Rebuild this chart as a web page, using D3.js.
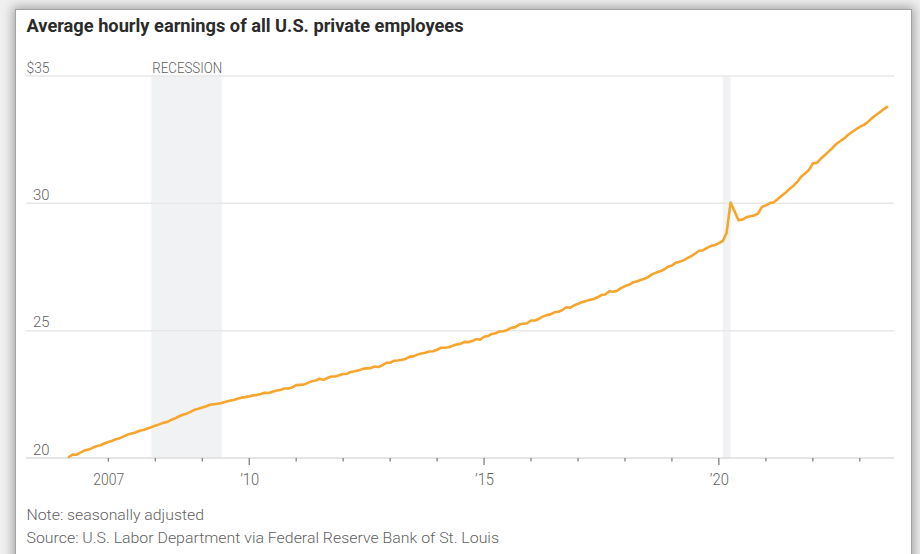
<!DOCTYPE html>
<html><head><meta charset="utf-8">
<script src="https://cdn.jsdelivr.net/npm/d3@7"></script>
<style>
html,body{margin:0;padding:0;width:920px;height:554px;overflow:hidden;background:#efefef;}
#panel{position:absolute;left:16px;top:10px;width:895px;height:620px;background:#fff;box-shadow:0 0 0 1px #a2a2a2, 0 0 10px 3px rgba(0,0,0,0.32);}
svg{position:absolute;left:0;top:0;}
text{font-family:"Roboto","Liberation Sans Narrow","DejaVu Sans Condensed",sans-serif;font-weight:300;}
text.title{font-family:"Roboto","DejaVu Sans Condensed",sans-serif;font-weight:700;}
</style></head><body><div id="panel"></div><svg id="chart" width="920" height="554"></svg>
<script>
const titleText = "Average hourly earnings of all U.S. private employees";
const noteText = "Note: seasonally adjusted";
const sourceText = "Source: U.S. Labor Department via Federal Reserve Bank of St. Louis";
const recessionLabel = "RECESSION";

// Monthly series, first value = March 2006
const firstYear = 2006, firstMonth = 2;
const earnings = [
  /*2006*/ 20.04, 20.14, 20.13, 20.22, 20.30, 20.33, 20.40, 20.46, 20.50, 20.57,
  /*2007*/ 20.63, 20.68, 20.74, 20.78, 20.85, 20.92, 20.96, 21.00, 21.07, 21.10, 21.16, 21.21,
  /*2008*/ 21.27, 21.32, 21.38, 21.41, 21.49, 21.55, 21.63, 21.70, 21.74, 21.81, 21.89, 21.93,
  /*2009*/ 21.98, 22.03, 22.09, 22.11, 22.13, 22.16, 22.21, 22.25, 22.28, 22.33, 22.37, 22.39,
  /*2010*/ 22.42, 22.46, 22.47, 22.51, 22.56, 22.55, 22.60, 22.65, 22.67, 22.73, 22.73, 22.77,
  /*2011*/ 22.86, 22.87, 22.88, 22.95, 23.01, 23.04, 23.11, 23.07, 23.14, 23.20, 23.20, 23.25,
  /*2012*/ 23.30, 23.31, 23.38, 23.41, 23.44, 23.50, 23.52, 23.53, 23.59, 23.57, 23.64, 23.74,
  /*2013*/ 23.74, 23.82, 23.83, 23.86, 23.89, 23.98, 23.99, 24.06, 24.10, 24.13, 24.18, 24.19,
  /*2014*/ 24.25, 24.33, 24.33, 24.35, 24.41, 24.46, 24.48, 24.56, 24.55, 24.59, 24.67, 24.64,
  /*2015*/ 24.76, 24.79, 24.87, 24.90, 24.97, 24.98, 25.03, 25.11, 25.14, 25.24, 25.27, 25.29,
  /*2016*/ 25.40, 25.40, 25.46, 25.55, 25.61, 25.64, 25.72, 25.74, 25.81, 25.92, 25.90, 25.99,
  /*2017*/ 26.06, 26.12, 26.16, 26.21, 26.24, 26.31, 26.40, 26.42, 26.55, 26.53, 26.57, 26.67,
  /*2018*/ 26.75, 26.80, 26.89, 26.93, 26.99, 27.04, 27.11, 27.22, 27.28, 27.33, 27.40, 27.51,
  /*2019*/ 27.56, 27.67, 27.71, 27.76, 27.85, 27.93, 28.03, 28.14, 28.16, 28.25, 28.33, 28.36,
  /*2020*/ 28.44, 28.52, 28.84, 30.03, 29.70, 29.34, 29.36, 29.45, 29.49, 29.52, 29.60, 29.86,
  /*2021*/ 29.92, 30.01, 30.03, 30.16, 30.29, 30.42, 30.55, 30.68, 30.84, 31.04, 31.17, 31.31,
  /*2022*/ 31.57, 31.59, 31.74, 31.88, 32.02, 32.17, 32.33, 32.44, 32.55, 32.68, 32.80, 32.90,
  /*2023*/ 33.00, 33.08, 33.18, 33.32, 33.45, 33.56, 33.68, 33.79
];

const yTicks = [20, 25, 30, 35];
const yTickLabels = ["20", "25", "30", "$35"];
const xTickYears = [2007,2008,2009,2010,2011,2012,2013,2014,2015,2016,2017,2018,2019,2020,2021,2022,2023];
const xLabelYears = [2007, 2010, 2015, 2020];
const xLabels = ["2007", "\u201910", "\u201915", "\u201920"];
const xLongTickYears = [2010, 2015, 2020];
const recessionStarts = [[2007, 11], [2020, 1]];
const recessionEnds = [[2009, 5], [2020, 3]];

const svg = d3.select("#chart");
const plotLeft = 26, plotRight = 894, plotTop = 76, plotBottom = 458;

const x = d3.scaleTime().domain([new Date(2005, 3, 1), new Date(2023, 8, 24)]).range([plotLeft, plotRight]);
const y = d3.scaleLinear().domain([20, 35]).range([plotBottom, plotTop]);

const data = earnings.map((v, i) => ({date: new Date(firstYear, firstMonth + i, 1), value: v}));

// recession bands
svg.append("g").selectAll("rect").data(recessionStarts).join("rect")
  .attr("x", (d) => x(new Date(d[0], d[1], 1)))
  .attr("width", (d, i) => x(new Date(recessionEnds[i][0], recessionEnds[i][1], 1)) - x(new Date(d[0], d[1], 1)))
  .attr("y", y(35))
  .attr("height", y(20) - y(35))
  .attr("fill", "#f1f2f4");

// gridlines
svg.append("g").selectAll("line").data(yTicks).join("line")
  .attr("x1", plotLeft).attr("x2", plotRight)
  .attr("y1", d => y(d)).attr("y2", d => y(d))
  .attr("stroke", d => d === 20 ? "#dcdcdc" : "#e8e8e8")
  .attr("stroke-width", 1.5);

// y labels
svg.append("g").selectAll("text").data(yTicks).join("text")
  .attr("x", 49.5).attr("y", d => y(d) - 3.5)
  .attr("text-anchor", "end")
  .attr("font-size", 15.5)
  .attr("fill", "#5f5f5f")
  .attr("textLength", d => d === 35 ? 23 : 16.5).attr("lengthAdjust", "spacingAndGlyphs")
  .text((d, i) => yTickLabels[i]);

// recession label
svg.append("text")
  .attr("x", x(new Date(recessionStarts[0][0], recessionStarts[0][1], 1)) + 1)
  .attr("y", y(35) - 3)
  .attr("font-size", 15.5)
  .attr("fill", "#5f5f5f")
  .attr("textLength", 70).attr("lengthAdjust", "spacingAndGlyphs")
  .text(recessionLabel);

// x ticks
svg.append("g").selectAll("line").data(xTickYears).join("line")
  .attr("x1", d => x(new Date(d, 0, 1))).attr("x2", d => x(new Date(d, 0, 1)))
  .attr("y1", plotBottom)
  .attr("y2", d => xLongTickYears.includes(d) ? plotBottom + 7 : plotBottom + 3.5)
  .attr("stroke", "#777").attr("stroke-width", 1.2);

// x labels
svg.append("g").selectAll("text").data(xLabelYears).join("text")
  .attr("x", d => x(new Date(d, 0, 1)) + 0.5)
  .attr("y", 485)
  .attr("text-anchor", "middle")
  .attr("font-size", 16)
  .attr("fill", "#5f5f5f")
  .attr("textLength", d => d === 2007 ? 31 : 19).attr("lengthAdjust", "spacingAndGlyphs")
  .text((d, i) => xLabels[i]);

// line
svg.append("path").datum(data)
  .attr("fill", "none")
  .attr("stroke", "#f6a52d")
  .attr("stroke-width", 2.6)
  .attr("stroke-linejoin", "round")
  .attr("stroke-linecap", "round")
  .attr("d", d3.line().x(d => x(d.date)).y(d => y(d.value)));

// title
svg.append("text").attr("class", "title")
  .attr("x", 26.5).attr("y", 31.5)
  .attr("font-size", 18.5)
  .attr("fill", "#2b2b2b")
  .attr("textLength", 437).attr("lengthAdjust", "spacingAndGlyphs")
  .text(titleText);

// note & source
svg.append("text")
  .attr("x", 26.5).attr("y", 520)
  .attr("font-size", 15).attr("fill", "#5f5f5f")
  .attr("textLength", 177.5).attr("lengthAdjust", "spacingAndGlyphs")
  .text(noteText);
svg.append("text")
  .attr("x", 26.5).attr("y", 542.5)
  .attr("font-size", 15).attr("fill", "#5f5f5f")
  .attr("textLength", 472.5).attr("lengthAdjust", "spacingAndGlyphs")
  .text(sourceText);
</script>
</body></html>
